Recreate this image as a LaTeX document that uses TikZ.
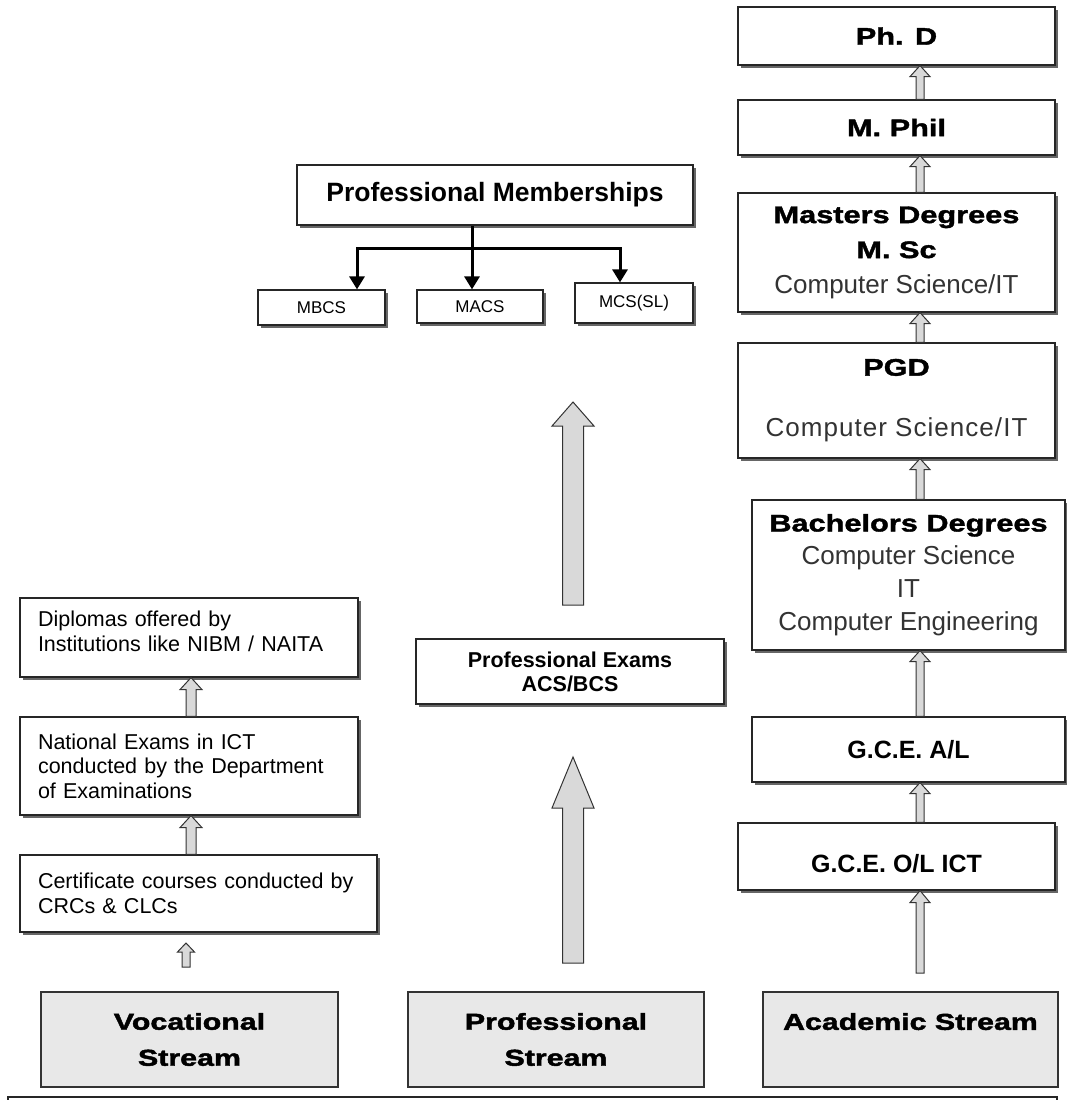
\documentclass[tikz,border=0pt]{standalone}
\usepackage{fontspec}
\setmainfont{Liberation Sans}
\newfontfamily\heavyfont[FakeStretch=1.28,BoldFeatures={FakeBold=1.6}]{Liberation Sans}
\newfontfamily\streamfont[FakeStretch=1.32,BoldFeatures={FakeBold=2}]{Liberation Sans}
\usetikzlibrary{calc,shadows,arrows.meta}

% heavy heading text
\newcommand\hv[1]{{\heavyfont\bfseries #1}}

% hollow block arrow pointing up: base point, tip point, shaft half width, head half width, head length
\newcommand\blockarrow[5]{%
  \draw[hollow] let \p1=#1, \p2=#2 in
    (\x1-#3,\y1) -- (\x1-#3,\y2-#5) -- (\x1-#4,\y2-#5) -- (\x1,\y2)
    -- (\x1+#4,\y2-#5) -- (\x1+#3,\y2-#5) -- (\x1+#3,\y1) -- cycle;}

\tikzset{
  box/.style={draw=black!85, line width=1.2pt, fill=white, inner sep=0pt, align=center,
    drop shadow={shadow xshift=3pt, shadow yshift=-3pt, fill=black!60, opacity=1}},
  leftbox/.style={box, align=left, inner xsep=18pt, font=\fontsize{21.5}{24.5}\selectfont},
  streambox/.style={draw=black!80, line width=1.3pt, fill=black!9, inner sep=0pt, align=center,
    font=\streamfont\bfseries\fontsize{23}{36}\selectfont},
  hollow/.style={draw=black!80, line width=1pt, fill=black!15, line join=miter},
  branch/.style={line width=3pt, -{Triangle[width=15pt,length=13pt]}},
}

\begin{document}
\begin{tikzpicture}[x=1pt,y=-1pt]
\useasboundingbox (0,0) rectangle (1067,1100);
\clip (0,0) rectangle (1067,1100);

% ---------------- academic stream ----------------
\node[box, minimum width=317pt, minimum height=58pt, font=\fontsize{24}{30}\selectfont]
  (phd) at (896.5,36) {\hv{Ph. D}};
\node[box, minimum width=317pt, minimum height=55pt, font=\fontsize{24}{30}\selectfont]
  (mphil) at (896.5,127.5) {\hv{M. Phil}};
\node[box, minimum width=317pt, minimum height=119pt, font=\fontsize{24}{35}\selectfont]
  (masters) at (896.5,252.5) {\hv{Masters Degrees}\\\hv{M. Sc}\\{\color{black!80}\fontsize{26}{35}\selectfont Computer Science/IT}};
\node[box, minimum width=317pt, minimum height=115pt, font=\fontsize{24}{33}\selectfont]
  (pgd) at (896.5,400.5) {\hv{PGD}\\[28pt]{\color{black!80}\fontsize{26}{33}\selectfont\addfontfeature{LetterSpace=4}Computer Science/IT}};
\node[box, minimum width=313pt, minimum height=150pt, font=\fontsize{26}{33}\selectfont, text=black!80]
  (bach) at (908.5,575) {\hv{\color{black}\fontsize{24}{33}\selectfont Bachelors Degrees}\\Computer Science\\IT\\Computer Engineering};
\node[box, minimum width=313pt, minimum height=65pt, font=\bfseries\fontsize{25}{30}\selectfont]
  (al) at (908.5,749.5) {G.C.E. A/L};
\node[box, minimum width=317pt, minimum height=67pt, font=\bfseries\fontsize{25}{33}\selectfont]
  (ol) at (896.5,856.5) {\mbox{}\\G.C.E. O/L ICT};

\coordinate (acbase) at (920,973);
\blockarrow{(920,0 |- mphil.north)}{(920,0 |- phd.south)}{4pt}{10pt}{11pt}
\blockarrow{(920,0 |- masters.north)}{(920,0 |- mphil.south)}{4pt}{10pt}{11pt}
\blockarrow{(920,0 |- pgd.north)}{(920,0 |- masters.south)}{4pt}{10pt}{11pt}
\blockarrow{(920,0 |- bach.north)}{(920,0 |- pgd.south)}{4pt}{10pt}{11pt}
\blockarrow{(920,0 |- al.north)}{(920,0 |- bach.south)}{4pt}{10pt}{11pt}
\blockarrow{(920,0 |- ol.north)}{(920,0 |- al.south)}{4pt}{10pt}{11pt}
\blockarrow{(acbase)}{(920,0 |- ol.south)}{4pt}{10pt}{12pt}

% ---------------- professional stream ----------------
\node[box, minimum width=396pt, minimum height=60pt, font=\bfseries\fontsize{26.5}{30}\selectfont]
  (memb) at (495,195) {Professional Memberships};
\node[box, minimum width=127pt, minimum height=35pt, font=\fontsize{17}{20}\selectfont]
  (mbcs) at (321.5,307.5) {MBCS};
\node[box, minimum width=126pt, minimum height=33pt, font=\fontsize{17}{20}\selectfont]
  (macs) at (480,306.5) {MACS};
\node[box, minimum width=118pt, minimum height=40pt, font=\fontsize{17}{20}\selectfont]
  (mcssl) at (634,303) {MCS(SL)};

\coordinate (hub) at (472,248);
\draw[line width=3pt] (472,0 |- memb.south) -- (hub);
\draw[branch] (hub) -| (357,0 |- mbcs.north);
\draw[branch] (hub) -- (472,0 |- macs.north);
\draw[branch] (hub) -| (620,0 |- mcssl.north);

\node[box, minimum width=308pt, minimum height=65pt, font=\bfseries\fontsize{21.5}{24}\selectfont]
  (profex) at (570,671.5) {Professional Exams\\ACS/BCS};

\coordinate (upbase) at (573,605);
\coordinate (uptip) at (573,402);
\coordinate (lowbase) at (573,963);
\coordinate (lowtip) at (573,757);
\blockarrow{(upbase)}{(uptip)}{10.5pt}{21pt}{24pt}
\blockarrow{(lowbase)}{(lowtip)}{10.5pt}{21pt}{51pt}

% ---------------- vocational stream ----------------
\node[leftbox, text width=302pt, minimum height=79pt]
  (dipl) at (189,637.5) {Diplomas offered by\\Institutions like NIBM / NAITA\\[-12pt]\mbox{}};
\node[leftbox, text width=302pt, minimum height=98pt]
  (natl) at (189,766) {National Exams in ICT\\conducted by the Department\\of Examinations};
\node[leftbox, text width=321pt, minimum height=77pt]
  (cert) at (198.5,893.5) {Certificate courses conducted by\\CRCs \& CLCs};

\coordinate (vocbase) at (186,967);
\coordinate (voctip) at (186,943);
\blockarrow{(191,0 |- natl.north)}{(191,0 |- dipl.south)}{5pt}{11pt}{12pt}
\blockarrow{(191,0 |- cert.north)}{(191,0 |- natl.south)}{5pt}{11pt}{12pt}
\blockarrow{(vocbase)}{(voctip)}{4pt}{8.5pt}{9pt}

% ---------------- stream labels ----------------
\node[streambox, minimum width=297pt, minimum height=95pt] (voc) at (189.5,1039.5) {Vocational\\Stream};
\node[streambox, minimum width=296pt, minimum height=95pt] (pstr) at (556,1039.5) {Professional\\Stream};
\node[streambox, minimum width=295pt, minimum height=95pt] (astr) at (910.5,1039.5) {Academic Stream\\\mbox{}};

% frame running off the lower edge
\node[draw=black!85, line width=1.3pt, minimum width=1049pt, minimum height=40pt, inner sep=0pt]
  (frame) at (532.5,1117) {};
\end{tikzpicture}
\end{document}
